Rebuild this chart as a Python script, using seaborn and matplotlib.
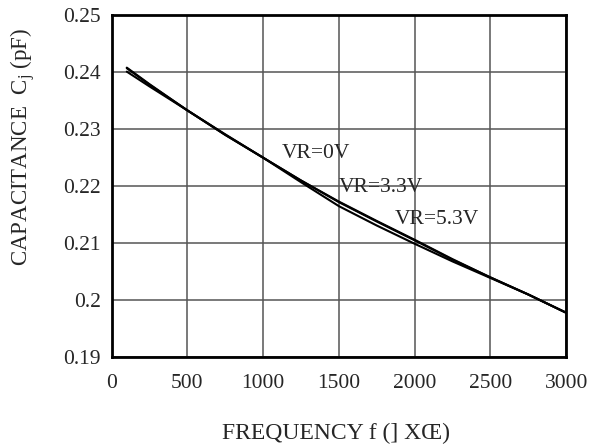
import pandas as pd
import matplotlib
matplotlib.use("Agg")
import matplotlib.pyplot as plt
import seaborn as sns

# data
freq = [100, 250, 500, 750, 1000, 1250, 1500, 1750, 2000, 2250, 2500, 2750, 3000]
cap_0v = [0.2408, 0.2379, 0.2333, 0.2290, 0.2250, 0.2210, 0.2173, 0.2139, 0.2106, 0.2072, 0.2040, 0.2010, 0.1978]
cap_33v = [0.2407, 0.2378, 0.2333, 0.2290, 0.2250, 0.2210, 0.2172, 0.2138, 0.2105, 0.2071, 0.2040, 0.2010, 0.1978]
cap_53v = [0.2401, 0.2375, 0.2333, 0.2291, 0.2250, 0.2207, 0.2165, 0.2131, 0.2099, 0.2068, 0.2039, 0.2010, 0.1978]
series = ["VR=0V", "VR=3.3V", "VR=5.3V"]
x_ticks = [0, 500, 1000, 1500, 2000, 2500, 3000]
y_ticks = [0.19, 0.2, 0.21, 0.22, 0.23, 0.24, 0.25]
y_ticklabels = ["0.19", "0.2", "0.21", "0.22", "0.23", "0.24", "0.25"]

df = pd.DataFrame({
    "freq": freq * 3,
    "cap": cap_0v + cap_33v + cap_53v,
    "vr": [series[0]] * len(freq) + [series[1]] * len(freq) + [series[2]] * len(freq),
})

sns.set_style("white")
plt.rcParams["font.family"] = ["Liberation Serif", "DejaVu Serif"]

fig = plt.figure(figsize=(6.1, 4.47), dpi=100)
ax = fig.add_axes([0.183, 0.201, 0.745, 0.765])

sns.lineplot(data=df, x="freq", y="cap", hue="vr", palette=["black"] * 3,
             linewidth=1.5, legend=False, ax=ax)

ax.set_xlim(0, 3000)
ax.set_ylim(0.19, 0.25)
ax.set_xticks(x_ticks)
ax.set_xticklabels([str(t) for t in x_ticks], fontsize=15.5)
ax.set_yticks(y_ticks)
ax.set_yticklabels(y_ticklabels, fontsize=15.5)
ax.tick_params(axis="x", length=0, pad=12)
ax.tick_params(axis="y", length=0, pad=8)
ax.grid(True, color="#555555", linewidth=1.1)
for s in ax.spines.values():
    s.set_color("black")
    s.set_linewidth(2)

# curve labels
ax.text(1125, 0.2258, "VR=0V", fontsize=15.5, va="center")
ax.text(1501, 0.2198, "VR=3.3V", fontsize=15.5, va="center")
ax.text(1871, 0.2142, "VR=5.3V", fontsize=15.5, va="center")

ax.set_xlabel("FREQUENCY f (] XŒ)", fontsize=17)
ax.set_ylabel("CAPACITANCE  C$_\\mathregular{j}$ (pF)", fontsize=16.5)
ax.xaxis.set_label_coords(0.494, -0.193)
ax.yaxis.set_label_coords(-0.162, 0.614)

fig.savefig("out.png", dpi=100)
